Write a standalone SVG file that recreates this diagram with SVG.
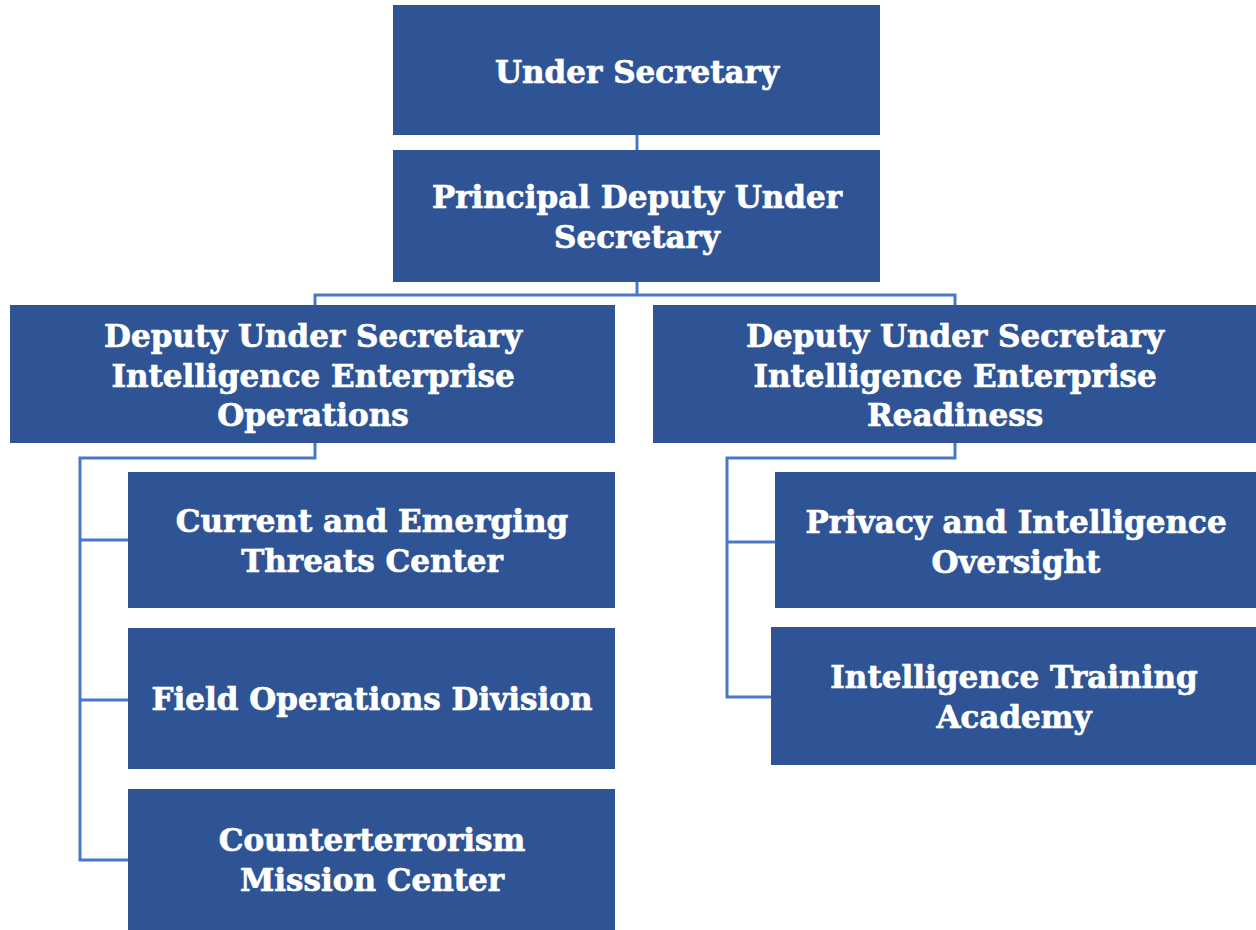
<svg xmlns="http://www.w3.org/2000/svg" width="1256" height="930" viewBox="0 0 1256 930">
<style>
.box{fill:#2F5496;}
.t{font-family:"DejaVu Serif","Liberation Serif",serif;font-weight:bold;font-size:31px;fill:#FFFFFF;stroke:#FFFFFF;stroke-width:0.7;text-anchor:middle;}
.c{fill:none;stroke:#4A78C8;stroke-width:3;}
</style>
<rect width="1256" height="930" fill="#FFFFFF"/>
<g id="connectors">
<path class="c" d="M637 135 V150"/>
<path class="c" d="M637 282 V295 M315 305 V295 H955 V305"/>
<path class="c" d="M315 443 V458 H80 V860 H128 M80 540 H128 M80 700 H128"/>
<path class="c" d="M955 443 V458 H727 V697 H771 M727 542 H775"/>
</g>
<g id="n1"><rect class="box" x="393" y="5" width="487" height="130"/>
<text class="t" x="637" y="83">Under Secretary</text></g>
<g id="n2"><rect class="box" x="393" y="150" width="487" height="132"/>
<text class="t" x="637" y="208">Principal Deputy Under</text><text class="t" x="637" y="248">Secretary</text></g>
<g id="n3"><rect class="box" x="10" y="305" width="605" height="138"/>
<text class="t" x="313" y="347">Deputy Under Secretary</text><text class="t" x="313" y="387">Intelligence Enterprise</text><text class="t" x="313" y="426">Operations</text></g>
<g id="n4"><rect class="box" x="653" y="305" width="603" height="138"/>
<text class="t" x="955" y="347">Deputy Under Secretary</text><text class="t" x="955" y="387">Intelligence Enterprise</text><text class="t" x="955" y="426">Readiness</text></g>
<g id="n5"><rect class="box" x="128" y="472" width="487" height="136"/>
<text class="t" x="372" y="532">Current and Emerging</text><text class="t" x="372" y="572">Threats Center</text></g>
<g id="n6"><rect class="box" x="128" y="628" width="487" height="141"/>
<text class="t" x="372" y="710">Field Operations Division</text></g>
<g id="n7"><rect class="box" x="128" y="789" width="487" height="141"/>
<text class="t" x="372" y="851">Counterterrorism</text><text class="t" x="372" y="891">Mission Center</text></g>
<g id="n8"><rect class="box" x="775" y="472" width="481" height="136"/>
<text class="t" x="1016" y="533">Privacy and Intelligence</text><text class="t" x="1016" y="573">Oversight</text></g>
<g id="n9"><rect class="box" x="771" y="627" width="485" height="138"/>
<text class="t" x="1014" y="688">Intelligence Training</text><text class="t" x="1014" y="728">Academy</text></g>
</svg>
